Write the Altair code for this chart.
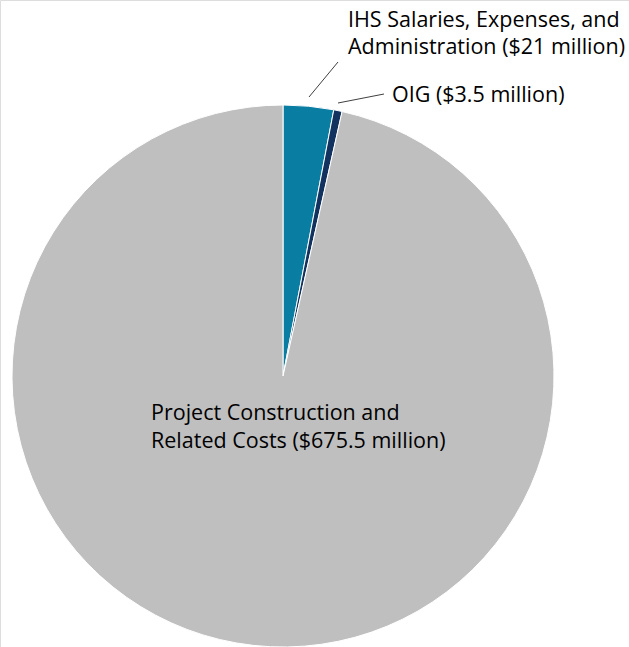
import altair as alt
import pandas as pd

categories = ["IHS Salaries, Expenses, and Administration",
              "OIG",
              "Project Construction and Related Costs"]
values = [21, 3.5, 675.5]  # $ millions
order = [1, 2, 3]
colors = ["#0A7DA3", "#123360", "#BFBFBF"]

df = pd.DataFrame({"category": categories, "value": values, "order": order})

FONT = "Open Sans"

pie = alt.Chart(df).mark_arc(outerRadius=271, stroke="white", strokeWidth=1).encode(
    theta=alt.Theta("value:Q", stack=True),
    order=alt.Order("order:Q"),
    color=alt.Color("category:N", scale=alt.Scale(domain=categories, range=colors), legend=None),
    x=alt.value(283),
    y=alt.value(376),
)

def label(lines, x, y, size=21.5, lh=27):
    return alt.Chart(df).mark_text(
        text=lines, align="left", baseline="alphabetic", font=FONT,
        fontSize=size, lineHeight=lh, color="#000000", fontWeight=500
    ).encode(x=alt.value(x), y=alt.value(y)).transform_filter("datum.order == 1")

ihs_label = label(["IHS Salaries, Expenses, and", "Administration ($21 million)"], 348, 27, lh=27)
oig_label = label(["OIG ($3.5 million)"], 392, 102)
proj_label = label(["Project Construction and", "Related Costs ($675.5 million)"], 151, 420, lh=28)

def leader(x1, y1, x2, y2):
    return alt.Chart(df).mark_rule(color="#404040", strokeWidth=1).encode(
        x=alt.value(x1), y=alt.value(y1), x2=alt.value(x2), y2=alt.value(y2)
    ).transform_filter("datum.order == 1")

ihs_line = leader(338, 62, 309, 97)
oig_line = leader(384, 94, 338, 103)

chart = alt.layer(pie, ihs_line, oig_line, ihs_label, oig_label, proj_label).properties(
    width=629, height=647, padding=0, autosize=alt.AutoSizeParams(type="none")
).configure_view(stroke=None).configure(background="white")

chart.save("out.html", embed_options={"renderer": "svg", "actions": False})
